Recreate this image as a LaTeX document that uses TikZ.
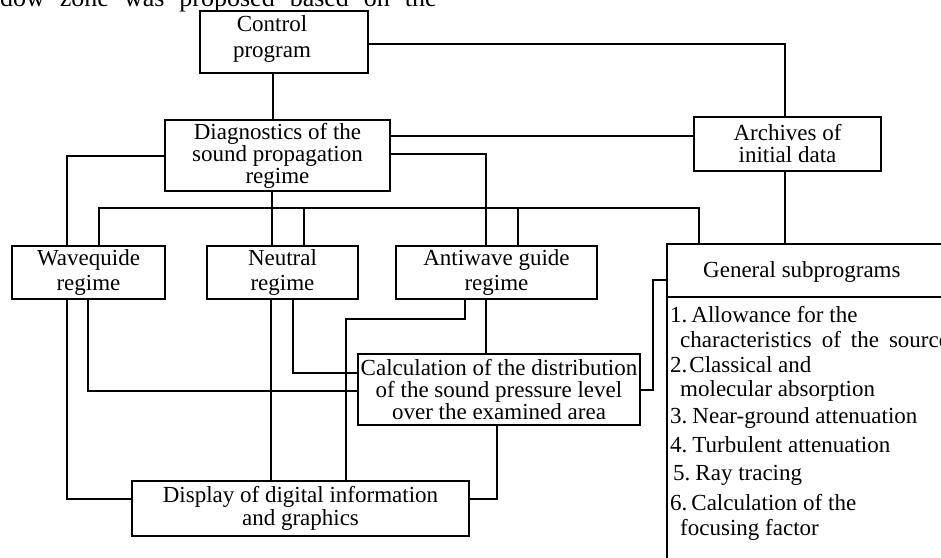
\documentclass[tikz,border=0pt]{standalone}
\usepackage{fontspec}
\setmainfont{Liberation Serif}
\newcommand\dgfont{\fontsize{23}{22}\selectfont}
\begin{document}
\begin{tikzpicture}[x=1pt,y=-1pt,
  box/.style={draw, line width=2.1pt, inner sep=0pt, align=center, font=\dgfont},
  lnk/.style={line width=1.7pt},
  txt/.style={inner sep=0pt, align=center, font=\dgfont},
  lstitem/.style={inner sep=0pt, anchor=base west, font=\dgfont}]
\useasboundingbox (0,0) rectangle (941,557);
\fill[white] (0,0) rectangle (941,557);
\clip (0,0) rectangle (941,557);

% cut-off line of running text
\node[inner sep=0pt, anchor=base west, font=\fontsize{26}{26}\selectfont] (topline) at (0,6)
  {\spaceskip=15pt dow zone was proposed based on the};

% boxes
\node[box, minimum width=168, minimum height=62] (ctrl) at (284,42) {};
\node[txt] (ctrlT) at (272,39.5) {Control\\[4pt]program};
\node[box, minimum width=225, minimum height=71] (diag) at (277.5,155.5) {Diagnostics of the\\sound propagation\\regime};
\node[box, minimum width=187, minimum height=54] (arch) at (787.5,144) {Archives of\\initial data};
\node[box, minimum width=153, minimum height=53] (wave) at (88.5,272.5) {Wavequide\\[3pt]regime};
\node[box, minimum width=151, minimum height=53] (neut) at (282.5,272.5) {Neutral\\[3pt]regime};
\node[box, minimum width=201, minimum height=53] (anti) at (496.5,272.5) {Antiwave guide\\[3pt]regime};
\node[box, minimum width=282, minimum height=71] (calc) at (499,389.5) {Calculation of the distribution\\of the sound pressure level\\over the examined area};
\node[box, minimum width=337, minimum height=55] (disp) at (300.5,508.5) {Display of digital information\\[1pt]and graphics};
\node[box, minimum width=320, minimum height=360] (gen) at (827,424) {};

% general subprograms panel
\draw[line width=2.1pt] (gen.west |- 0,297) -- (gen.east |- 0,297);
\node[lstitem] (genH) at (703,277) {General subprograms};
\node[lstitem] (g1a) at (670,322) {1.\hspace{4pt}Allowance for the};
\node[lstitem] (g1b) at (680,347) {\spaceskip=10pt characteristics of the source};
\node[lstitem] (g2a) at (670,372) {2.\hspace{2pt}Classical and};
\node[lstitem] (g2b) at (680,396) {molecular absorption};
\node[lstitem] (g3) at (670,423) {3.\hspace{5pt}Near-ground attenuation};
\node[lstitem] (g4) at (670,452) {4.\hspace{5pt}Turbulent attenuation};
\node[lstitem] (g5) at (673,480) {5.\hspace{5pt}Ray tracing};
\node[lstitem] (g6a) at (670,510) {6.\hspace{4pt}Calculation of the};
\node[lstitem] (g6b) at (680,535) {focusing factor};

% connectors
\coordinate (busL) at (99,208);
\coordinate (busR) at (699,208);
\draw[lnk] (ctrl.south -| 273,0) -- (diag.north -| 273,0);
\draw[lnk] (ctrl.east |- 0,44) -| (arch.north -| 785,0);
\draw[lnk] (diag.east |- 0,136) -- (arch.west |- 0,136);
\draw[lnk] (diag.east |- 0,154) -| (anti.north -| 486,0);
\draw[lnk] (diag.west |- 0,156) -| (wave.north -| 67,0);
\draw[lnk] (arch.south -| 785,0) -- (gen.north -| 785,0);
\draw[lnk] (wave.north -| busL) -- (busL) -- (busR) -- (gen.north -| busR);
\draw[lnk] (diag.south -| 272,0) -- (neut.north -| 272,0);
\draw[lnk] (busL -| 304,0) -- (neut.north -| 304,0);
\draw[lnk] (busL -| 518,0) -- (anti.north -| 518,0);
\draw[lnk] (wave.south -| 67,0) |- (disp.west |- 0,499);
\draw[lnk] (wave.south -| 88,0) |- (calc.west |- 0,391);
\draw[lnk] (neut.south -| 271,0) -- (disp.north -| 271,0);
\draw[lnk] (neut.south -| 293,0) |- (calc.west |- 0,373);
\draw[lnk] (anti.south -| 465,0) -- ++(0,19) -| (disp.north -| 346,0);
\draw[lnk] (anti.south -| 486,0) -- (calc.north -| 486,0);
\draw[lnk] (calc.south -| 497,0) |- (disp.east |- 0,499);
\draw[lnk] (calc.east |- 0,390) -- ++(12,0) |- (gen.west |- 0,280);
\end{tikzpicture}
\end{document}
